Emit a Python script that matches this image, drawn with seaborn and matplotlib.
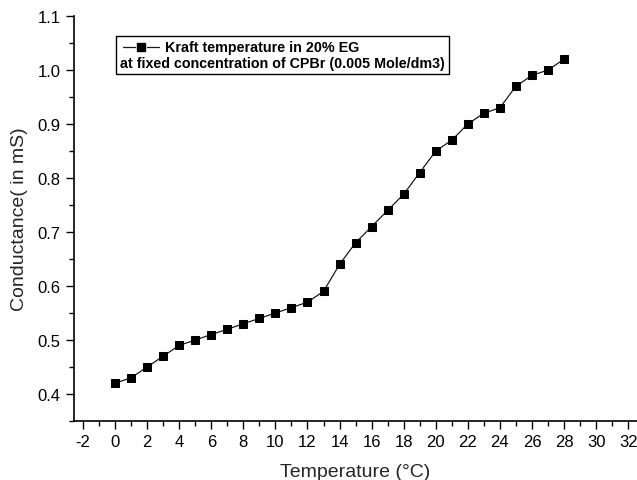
import numpy as np
import pandas as pd
import matplotlib
matplotlib.use("Agg")
import matplotlib.pyplot as plt
import seaborn as sns
from matplotlib.lines import Line2D
from matplotlib.offsetbox import AnchoredOffsetbox, DrawingArea, HPacker, TextArea, VPacker
from matplotlib.ticker import MultipleLocator

# Kraft temperature data
temperature = [0, 1, 2, 3, 4, 5, 6, 7, 8, 9, 10, 11, 12, 13, 14,
               15, 16, 17, 18, 19, 20, 21, 22, 23, 24, 25, 26, 27, 28]
conductance = [0.42, 0.43, 0.45, 0.47, 0.49, 0.50, 0.51, 0.52, 0.53, 0.54,
               0.55, 0.56, 0.57, 0.59, 0.64, 0.68, 0.71, 0.74, 0.77, 0.81,
               0.85, 0.87, 0.90, 0.92, 0.93, 0.97, 0.99, 1.00, 1.02]
legend_line1 = "Kraft temperature in 20% EG"
legend_line2 = "at fixed concentration of CPBr (0.005 Mole/dm3)"

df = pd.DataFrame({"Temperature": temperature, "Conductance": conductance})

sns.set_style("ticks")
plt.rcParams["font.family"] = ["Liberation Sans", "DejaVu Sans"]
plt.rcParams["axes.unicode_minus"] = False

fig = plt.figure(figsize=(6.37, 4.81), dpi=100)
ax = fig.add_axes([74 / 637, 1 - 422 / 481, 1 - 74 / 637, (422 - 17) / 481])

sns.lineplot(data=df, x="Temperature", y="Conductance", ax=ax,
             color="#1a1a1a", linewidth=0.9, marker="s", markersize=6.2,
             markerfacecolor="black", markeredgecolor="black")

ax.set_xlim(-2.56, 32.55)
ax.set_ylim(0.35, 1.1)
ax.xaxis.set_major_locator(MultipleLocator(2))
ax.xaxis.set_minor_locator(MultipleLocator(1))
ax.yaxis.set_major_locator(MultipleLocator(0.1))
ax.yaxis.set_minor_locator(MultipleLocator(0.05))
ax.yaxis.set_major_formatter(matplotlib.ticker.FormatStrFormatter("%.1f"))
ax.tick_params(which="major", direction="out", length=6, width=1.0,
               labelsize=12, color="black", labelcolor="black")
ax.tick_params(which="minor", direction="out", length=3.5, width=1.0, color="black")

for side in ["top", "right"]:
    ax.spines[side].set_visible(False)
for side in ["left", "bottom"]:
    ax.spines[side].set_linewidth(1.2)
    ax.spines[side].set_color("black")

ax.set_xlabel("Temperature (\u00b0C)", fontsize=14, labelpad=10)
ax.set_ylabel("Conductance( in mS)", fontsize=14, labelpad=7)

# legend box: marker sample + first line, second line starting at left edge
da = DrawingArea(30, 10, 0, 0)
da.add_artist(Line2D([2, 11], [5, 5], color="#1a1a1a", linewidth=0.9))
da.add_artist(Line2D([19, 28], [5, 5], color="#1a1a1a", linewidth=0.9))
da.add_artist(Line2D([15], [5], marker="s", markersize=6.2, color="black"))
tprops = dict(fontsize=10.3, fontweight="bold", color="black")
row1 = HPacker(children=[da, TextArea(legend_line1, textprops=tprops)],
               pad=0, sep=2, align="center")
row2 = TextArea(legend_line2, textprops=tprops)
box = VPacker(children=[row1, row2], pad=0, sep=1, align="left")
anch = AnchoredOffsetbox(loc="upper left", child=box, pad=0.3, borderpad=0,
                         frameon=True, bbox_to_anchor=((116 - 74) / 563, (422 - 37) / 405),
                         bbox_transform=ax.transAxes)
anch.patch.set_edgecolor("black")
anch.patch.set_linewidth(1.0)
anch.patch.set_boxstyle("square", pad=0)
ax.add_artist(anch)

fig.savefig("out.png", dpi=100)
